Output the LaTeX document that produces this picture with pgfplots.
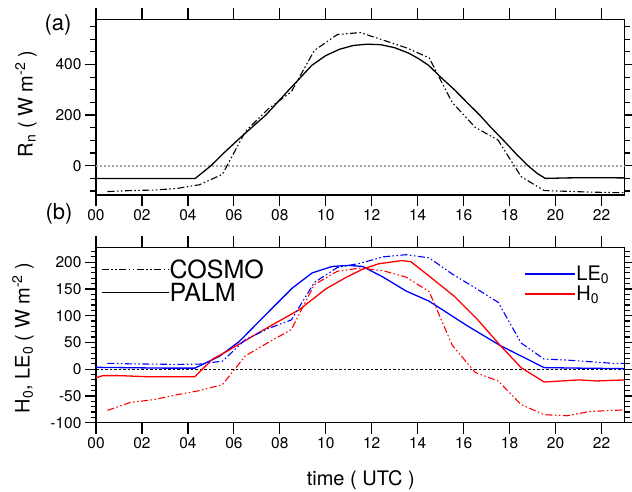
\documentclass[border=0pt]{standalone}
\usepackage{fontspec}
\setmainfont{TeX Gyre Heros}
\usepackage{pgfplots}
\pgfplotsset{compat=1.18}

% h in UTC hours
\pgfplotstableread{
h    rn
0    -50
1    -50
2    -50
3    -50
4    -50
4.32 -50
5.0  0
5.5  45
6.09 95
6.7  145
7.39 200
8.4  300
9.4  397
10.0 435
10.6 460
11.2 475
11.8 480
12.4 478
13.0 466
13.6 445
14.0 425
14.47 397
15.0 350
15.6 300
16.2 245
16.7 200
17.2 150
17.79 95
18.3 45
18.8 0
19.2 -30
19.55 -50
20.5 -48
21.5 -47
23   -48
}\palmrn

\pgfplotstableread{
h    rn
0.5  -102
1.5  -98
2.5  -96
3.5  -90
4.5  -75
5.5  -34
6.5  135
7.5  225
8.5  292
9.5  455
10.5 518
11.5 526
12.5 496
13.5 466
14.5 426
15.5 250
16.5 152
17.5 101
18.5 -43
19.5 -98
20.5 -101
21.5 -104
22.5 -106
23   -106
}\cosmorn

\pgfplotstableread{
h    le
0    3.5
1    3
2    2.5
3    2
4.3  2
5.37 24
6.24 52
7.39 102
8.55 152
9.41 180
10.28 192
11.0 194
11.6 192
12.5 172
13.5 146
14.5 127
16.2 80
17.6 44
19.5 3
21   2
23   1
}\palmle

\pgfplotstableread{
h    hs
0    -16
0.3  -12
1    -12
2.2  -14
3    -14
4.3  -14
5.08 19
5.8  36
6.67 58
7.68 83
8.84 111
10.0 150
10.9 172
11.6 187
12.3 197
13.3 203
13.7 201
14.5 174
15.6 136
16.6 93
17.6 44
18.5 3
19.5 -24
21   -20
21.8 -22
23   -20
}\palmh

\pgfplotstableread{
h    le
0.5  11
1.5  10
2.5  9.5
3.5  9
4.5  9.5
5.5  15
6.5  55
7.5  76
8.5  92
9.5  162
10.5 190
11.5 198
12.5 210
13.5 214
14.5 208
15.5 178
16.5 152
17.5 125
18.5 49
19.5 19
20.5 17
21.5 14
22.5 11
23   11
}\cosmole

\pgfplotstableread{
h    hs
0.5  -77
1.5  -62
2.5  -57
3.5  -48
4.5  -40
5.5  -29
6.5  25
7.5  50
8.5  74
9.5  158
10.5 183
11.5 189
12.5 184
13.5 172
14.5 145
15.5 45
16.5 -6
17.5 -22
18.5 -66
19.5 -85
20.5 -87
21.5 -79
22.5 -77
23   -76
}\cosmoh

\pgfplotsset{
  panel/.style={
    scale only axis, width=528.5pt, height=175.5pt,
    anchor=south west,
    xmin=0, xmax=23,
    xtick={0,2,...,22},
    minor x tick num=0,
    tick align=outside,
    major tick length=11pt, minor tick length=5.5pt,
    axis line style={line width=1.2pt},
    every tick/.style={black, line width=1.2pt},
    tick label style={font=\fontsize{15.5}{18}\selectfont},
    label style={font=\fontsize{20}{24}\selectfont},
    /pgf/number format/assume math mode=true,
    xticklabels={00,02,04,06,08,10,12,14,16,18,20,22},
  },
  cosmo/.style={line width=1.1pt, dash pattern=on 7pt off 2.5pt on 1.5pt off 2.5pt on 1.5pt off 2.5pt},
  palm/.style={line width=1.3pt},
}

\begin{document}
\begin{tikzpicture}
\path[use as bounding box] (0,0) rectangle (632pt,491pt);

% (a) net radiation
\begin{axis}[panel, at={(96pt,296pt)},
  ymin=-115.5, ymax=577.5,
  ytick={0,200,400}, minor ytick={-100,-50,...,550},
  ylabel={R\textsubscript{n} ( W m\textsuperscript{-2} )},
  ylabel style={at={(axis description cs:-0.1325,0.52)}, anchor=center},
]
\addplot[gray!70, line width=1.6pt, dash pattern=on 1.6pt off 2.4pt] coordinates {(0,0) (23,0)};
\addplot[black, palm] table[x=h, y=rn] {\palmrn};
\addplot[black, cosmo] table[x=h, y=rn] {\cosmorn};
\end{axis}

% (b) turbulent fluxes
\begin{axis}[panel, at={(96pt,68.3pt)},
  ymin=-100, ymax=228,
  ytick={-100,-50,...,200}, minor ytick={-100,-90,...,220},
  xlabel={time ( UTC )},
  xlabel style={at={(axis description cs:0.501,-0.327)}, anchor=center},
  ylabel={H\textsubscript{0}, LE\textsubscript{0} ( W m\textsuperscript{-2} )},
  ylabel style={at={(axis description cs:-0.138,0.483)}, anchor=center},
  legend style={draw=none, fill=none, at={(rel axis cs:0.804,0.912)}, anchor=north west,
    font=\fontsize{20}{24}\selectfont, row sep=2pt,
    nodes={inner sep=1pt}},
  legend cell align=left,
  legend image code/.code={\draw[#1] (0pt,0pt) -- (50pt,0pt);},
]
\addplot[black, line width=0.6pt, dash pattern=on 2.5pt off 2pt, forget plot] coordinates {(0,0) (23,0)};
\addplot[blue, palm, forget plot] table[x=h, y=le] {\palmle};
\addplot[red, palm, forget plot] table[x=h, y=hs] {\palmh};
\addplot[blue, cosmo, forget plot] table[x=h, y=le] {\cosmole};
\addplot[red, cosmo, forget plot] table[x=h, y=hs] {\cosmoh};
\addlegendimage{blue, palm}
\addlegendimage{red, palm}
\legend{LE\textsubscript{0}, H\textsubscript{0}}
\end{axis}

% second legend of (b): line styles
\begin{axis}[scale only axis, width=528.5pt, height=175.5pt, anchor=south west,
  at={(96pt,68.3pt)}, hide axis, xmin=0, xmax=23, ymin=-100, ymax=228,
  legend style={draw=none, fill=none, at={(rel axis cs:0.004,0.94)}, anchor=north west,
    font=\fontsize{25}{29}\selectfont, row sep=5pt,
    nodes={inner sep=0pt, text depth=0pt}},
  legend cell align=left,
  legend image code/.code={\draw[#1] (0pt,0pt) -- (67pt,0pt);},
]
\addlegendimage{black, cosmo}
\addlegendimage{black, palm}
\legend{COSMO, PALM}
\end{axis}

\node[font=\fontsize{22}{26}\selectfont] at (58pt,466pt) {(a)};
\node[font=\fontsize{22}{26}\selectfont] at (59pt,277pt) {(b)};
\end{tikzpicture}
\end{document}
